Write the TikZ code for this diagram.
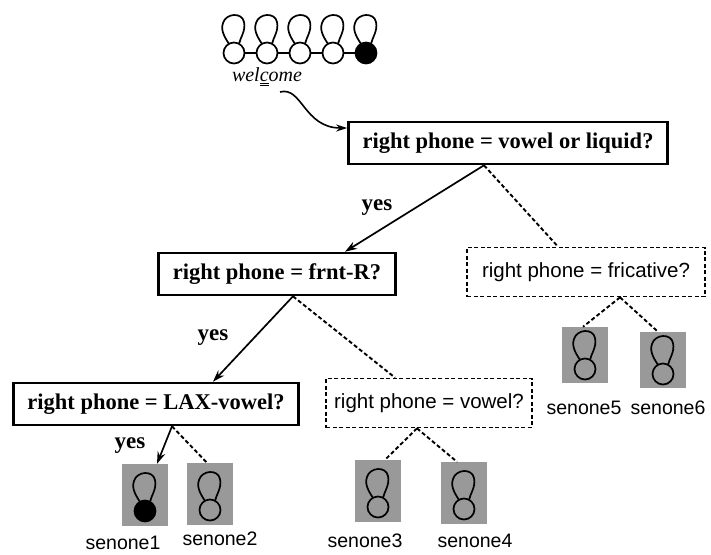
\documentclass[tikz,border=0pt]{standalone}
\usepackage{fontspec}
\setmainfont{Liberation Serif}
\setsansfont{Liberation Sans}
\usetikzlibrary{arrows.meta}

\tikzset{
  question/.style={draw, line width=2.6pt, inner xsep=14pt, inner ysep=0pt,
    minimum height=42pt, font=\fontsize{22.5}{26}\selectfont\bfseries},
  fallback/.style={draw, line width=1.7pt, dash pattern=on 4pt off 2.5pt,
    inner ysep=0pt, minimum height=49pt, font=\sffamily\fontsize{20.5}{24}\selectfont},
  yesbranch/.style={line width=1.7pt, -{Stealth[length=12pt,width=8pt]}},
  nobranch/.style={line width=1.9pt, dash pattern=on 4pt off 2.5pt},
  answer/.style={font=\fontsize{23}{26}\selectfont\bfseries},
  senonebox/.style={fill=black!40, minimum width=46pt, minimum height=62pt, inner sep=0pt},
  senonelabel/.style={font=\sffamily\fontsize{19.5}{23}\selectfont},
  pics/hmmstate/.style={code={
    \draw[line width=1.7pt] (-5,-9) .. controls (-8,-14) and (-14,-22) .. (-11,-30)
      .. controls (-8,-40) and (8,-41) .. (10,-31) .. controls (12,-22) and (6,-15) .. (5,-9);
    \node[draw, circle, line width=1.7pt, minimum size=21pt, inner sep=0pt, fill=#1] (-c) at (0,0) {};
  }},
  pics/hmmstate/.default=none,
}

\begin{document}
\begin{tikzpicture}[x=1pt, y=-1pt]
  \useasboundingbox (0,0) rectangle (711,554);

  % model of the word
  \pic (st1) at (234,53) {hmmstate};
  \pic (st2) at (267,53) {hmmstate};
  \pic (st3) at (300,53) {hmmstate};
  \pic (st4) at (333,53) {hmmstate};
  \pic (st5) at (366,53) {hmmstate=black};
  \foreach \a/\b in {1/2,2/3,3/4,4/5}
    \draw[line width=1.4pt] (st\a-c) -- (st\b-c);
  \node[font=\itshape\fontsize{20}{24}\selectfont] (word) at (267,77) {wel\underline{\underline{c}}ome};
  \coordinate (wc) at (280,92);

  % questions
  \node[question] (b1) at (508,143) {right phone = vowel or liquid?};
  \node[question] (b2) at (277,274) {right phone = frnt-R?};
  \node[fallback, inner xsep=15pt] (b3) at (586,272) {right phone = fricative?};
  \node[question] (b4) at (156,404) {right phone = LAX-vowel?};
  \node[fallback, inner xsep=8pt] (b5) at (429,403) {right phone = vowel?};

  \draw[line width=1.6pt, -{Stealth[length=11pt,width=7pt]}] (wc) .. controls (302,86) and (304,128) .. ([yshift=15pt]b1.west);

  % senones
  \node[senonebox] (sn1) at (145,495) {};
  \node[senonebox] (sn2) at (210,494) {};
  \node[senonebox] (sn3) at (378,491) {};
  \node[senonebox] (sn4) at (464,493) {};
  \node[senonebox, minimum height=56pt] (sn5) at (585,355) {};
  \node[senonebox, minimum height=56pt] (sn6) at (663,360) {};
  \pic at ([yshift=-16pt]sn1.center) {hmmstate=black};
  \foreach \i in {2,...,4}
    \pic at ([yshift=-16pt]sn\i.center) {hmmstate};
  \foreach \i in {5,6}
    \pic at ([yshift=-14pt]sn\i.center) {hmmstate};
  \node[senonelabel] (l1) at (123,543) {senone1};
  \node[senonelabel] (l2) at (220,539) {senone2};
  \node[senonelabel] (l3) at (365,541) {senone3};
  \node[senonelabel] (l4) at (475,541) {senone4};
  \node[senonelabel] (l5) at (584,408) {senone5};
  \node[senonelabel] (l6) at (668,408) {senone6};

  % branches
  \coordinate (a1) at ([xshift=-24pt]b1.south);
  \coordinate (a2) at ([xshift=16pt]b2.south);
  \coordinate (a3) at ([xshift=34pt]b3.south);
  \coordinate (a4) at ([xshift=16pt]b4.south);
  \coordinate (a5) at ([xshift=-12pt]b5.south);
  \draw[yesbranch] (a1) -- ([xshift=68pt]b2.north);
  \draw[nobranch] (a1) -- ([xshift=-28pt]b3.north);
  \draw[yesbranch] (a2) -- ([xshift=57pt]b4.north);
  \draw[nobranch] (a2) -- ([xshift=-34pt]b5.north);
  \draw[yesbranch] (a4) -- ([xshift=12pt]sn1.north);
  \draw[nobranch] (a4) -- ([xshift=-3pt]sn2.north);
  \draw[nobranch] (a5) -- ([xshift=7pt]sn3.north);
  \draw[nobranch] (a5) -- ([xshift=-7pt]sn4.north);
  \draw[nobranch] (a3) -- ([xshift=-2pt]sn5.north);
  \draw[nobranch] (a3) -- ([xshift=-5pt]sn6.north);

  \node[answer] (y1) at (377,208) {yes};
  \node[answer] (y2) at (213,338) {yes};
  \node[answer] (y3) at (130,446) {yes};
\end{tikzpicture}
\end{document}
